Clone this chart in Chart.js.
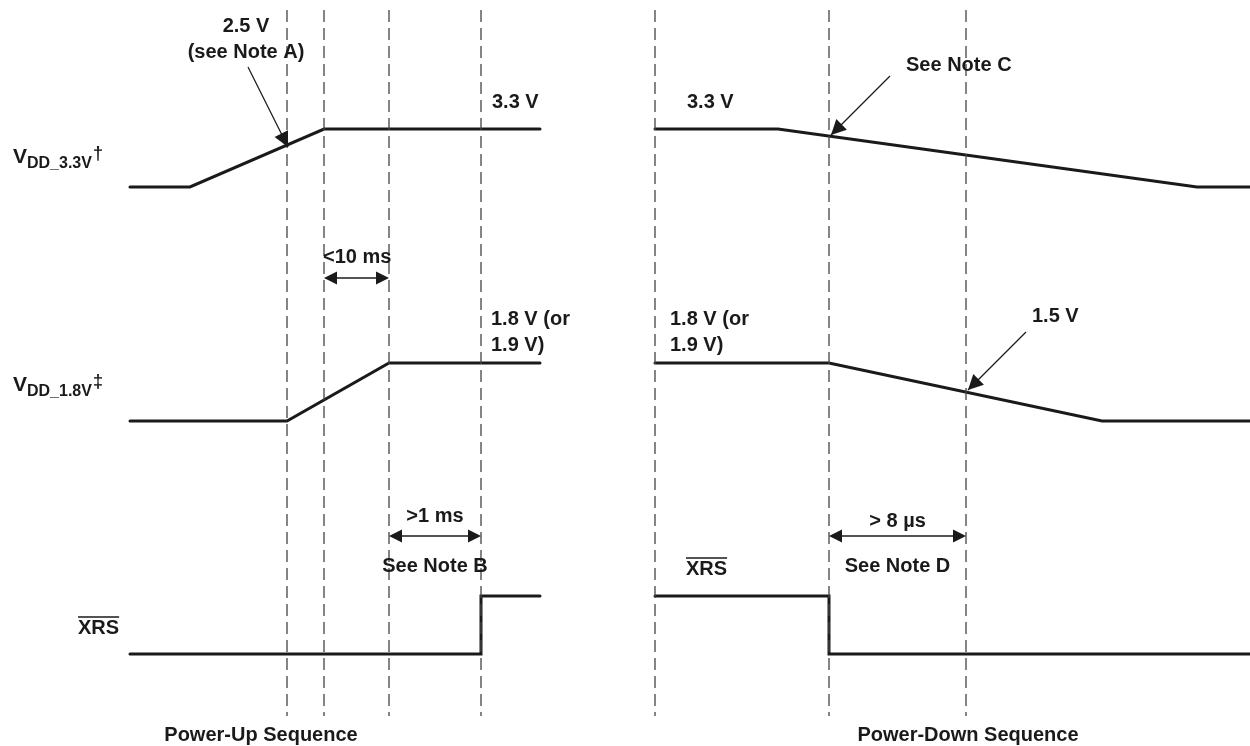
<!DOCTYPE html>
<html>
<head>
<meta charset="utf-8">
<script src="https://cdn.jsdelivr.net/npm/chart.js@4.4.1/dist/chart.umd.min.js"></script>
<style>
  html, body { margin: 0; padding: 0; background: #fff; }
  #wrap { width: 1250px; height: 746px; }
</style>
</head>
<body>
<div id="wrap"><canvas id="chart" width="1250" height="746"></canvas></div>
<script>
// time breakpoints (diagram units) and logic levels (0 = off, 1 = on) per trace
const upVdd33T = [130, 190, 324, 540];
const upVdd33L = [0, 0, 1, 1];
const upVdd18T = [130, 287, 389, 540];
const upVdd18L = [0, 0, 1, 1];
const upXrsT = [130, 481, 481, 540];
const upXrsL = [0, 0, 1, 1];

const dnVdd33T = [655, 778, 1197, 1250];
const dnVdd33L = [1, 1, 0, 0];
const dnVdd18T = [655, 829, 1102, 1250];
const dnVdd18L = [1, 1, 0, 0];
const dnXrsT = [655, 829, 829, 1250];
const dnXrsL = [1, 1, 0, 0];

// event markers (dashed verticals)
const upMarkers = [287, 324, 389, 481];
const downMarkers = [655, 829, 966];

// row layout (pixels on the reversed y scale)
const rowBase = [187, 421, 654];
const swing = 58;

const FONT = '"Liberation Sans", Arial, Helvetica, sans-serif';
const INK = '#1a1a1a';

function trace(times, levels, row) {
    return {
        data: times.map((t, i) => ({ x: t, y: rowBase[row] - levels[i] * swing })),
        showLine: true,
        borderColor: INK,
        borderWidth: 3,
        pointRadius: 0,
        tension: 0,
        borderJoinStyle: 'miter',
        borderCapStyle: 'round'
    };
}

function marker(t) {
    return {
        data: [{ x: t, y: 10 }, { x: t, y: 716 }],
        showLine: true,
        borderColor: '#444',
        borderWidth: 1.3,
        borderDash: [12, 6],
        pointRadius: 0
    };
}

const datasets = [
    ...upMarkers.map(marker),
    ...downMarkers.map(marker),
    trace(upVdd33T, upVdd33L, 0),
    trace(upVdd18T, upVdd18L, 1),
    trace(upXrsT, upXrsL, 2),
    trace(dnVdd33T, dnVdd33L, 0),
    trace(dnVdd18T, dnVdd18L, 1),
    trace(dnXrsT, dnXrsL, 2)
];

function head(ctx, x0, y0, x1, y1, len, half) {
    const a = Math.atan2(y1 - y0, x1 - x0);
    ctx.beginPath();
    ctx.moveTo(x1, y1);
    ctx.lineTo(x1 - len * Math.cos(a) + half * Math.sin(a), y1 - len * Math.sin(a) - half * Math.cos(a));
    ctx.lineTo(x1 - len * Math.cos(a) - half * Math.sin(a), y1 - len * Math.sin(a) + half * Math.cos(a));
    ctx.closePath();
    ctx.fill();
}

function pointer(ctx, x0, y0, x1, y1) {
    ctx.lineWidth = 1.2;
    ctx.beginPath();
    ctx.moveTo(x0, y0);
    ctx.lineTo(x1, y1);
    ctx.stroke();
    head(ctx, x0, y0, x1, y1, 15, 7.5);
}

function span(ctx, xa, xb, y) {
    ctx.lineWidth = 1.5;
    ctx.beginPath();
    ctx.moveTo(xa + 4, y);
    ctx.lineTo(xb - 4, y);
    ctx.stroke();
    head(ctx, xb, y, xa, y, 13, 6.5);
    head(ctx, xa, y, xb, y, 13, 6.5);
}

function text(ctx, s, x, y, size, align) {
    ctx.font = 'bold ' + size + 'px ' + FONT;
    ctx.textAlign = align || 'left';
    ctx.fillText(s, x, y);
}

function railLabel(ctx, sub, mark, x, y) {
    ctx.textAlign = 'left';
    ctx.font = 'bold 21px ' + FONT;
    ctx.fillText('V', x, y);
    let cx = x + ctx.measureText('V').width;
    ctx.font = 'bold 16px ' + FONT;
    ctx.fillText(sub, cx, y + 5);
    cx += ctx.measureText(sub).width + 1;
    ctx.font = 'bold 18px ' + FONT;
    ctx.fillText(mark, cx, y - 4);
}

function xrsLabel(ctx, x, y) {
    ctx.textAlign = 'left';
    ctx.font = 'bold 20px ' + FONT;
    const w = ctx.measureText('XRS').width;
    ctx.fillText('XRS', x, y);
    ctx.lineWidth = 1.4;
    ctx.beginPath();
    ctx.moveTo(x, y - 17);
    ctx.lineTo(x + w, y - 17);
    ctx.stroke();
}

const notes = {
    id: 'notes',
    afterDatasetsDraw(chart) {
        const ctx = chart.ctx;
        const sx = chart.scales.x;
        const px = v => sx.getPixelForValue(v);
        ctx.save();
        ctx.fillStyle = INK;
        ctx.strokeStyle = INK;
        ctx.textBaseline = 'alphabetic';

        // power-up side
        text(ctx, '2.5 V', 246, 32, 20, 'center');
        text(ctx, '(see Note A)', 246, 58, 20, 'center');
        pointer(ctx, 248, 67, 288, 147);
        text(ctx, '3.3 V', 492, 108, 20);
        text(ctx, '<10 ms', px(upMarkers[1]) - 1, 263, 20);
        span(ctx, px(upMarkers[1]), px(upMarkers[2]), 278);
        text(ctx, '1.8 V (or', 491, 325, 20);
        text(ctx, '1.9 V)', 491, 351, 20);
        text(ctx, '>1 ms', (px(upMarkers[2]) + px(upMarkers[3])) / 2, 522, 20, 'center');
        span(ctx, px(upMarkers[2]), px(upMarkers[3]), 536);
        text(ctx, 'See Note B', (px(upMarkers[2]) + px(upMarkers[3])) / 2, 572, 20, 'center');
        railLabel(ctx, 'DD_3.3V', '\u2020', 13, 163);
        railLabel(ctx, 'DD_1.8V', '\u2021', 13, 391);
        xrsLabel(ctx, 78, 634);
        text(ctx, 'Power-Up Sequence', 261, 741, 20, 'center');

        // power-down side
        text(ctx, '3.3 V', 687, 108, 20);
        text(ctx, 'See Note C', 906, 71, 20);
        pointer(ctx, 890, 76, 831, 135);
        text(ctx, '1.8 V (or', 670, 325, 20);
        text(ctx, '1.9 V)', 670, 351, 20);
        text(ctx, '1.5 V', 1032, 322, 20);
        pointer(ctx, 1026, 332, 968, 390);
        text(ctx, '> 8 \u00b5s', (px(downMarkers[1]) + px(downMarkers[2])) / 2, 527, 20, 'center');
        span(ctx, px(downMarkers[1]), px(downMarkers[2]), 536);
        text(ctx, 'See Note D', (px(downMarkers[1]) + px(downMarkers[2])) / 2, 572, 20, 'center');
        xrsLabel(ctx, 686, 575);
        text(ctx, 'Power-Down Sequence', 968, 741, 20, 'center');
        ctx.restore();
    }
};

new Chart(document.getElementById('chart').getContext('2d'), {
    type: 'scatter',
    data: { datasets: datasets },
    options: {
        responsive: false,
        animation: false,
        devicePixelRatio: 1,
        layout: { padding: 0 },
        plugins: {
            legend: { display: false },
            tooltip: { enabled: false }
        },
        scales: {
            x: { type: 'linear', min: 0, max: 1250, display: false },
            y: { type: 'linear', min: 0, max: 746, reverse: true, display: false }
        }
    },
    plugins: [notes]
});
</script>
</body>
</html>
